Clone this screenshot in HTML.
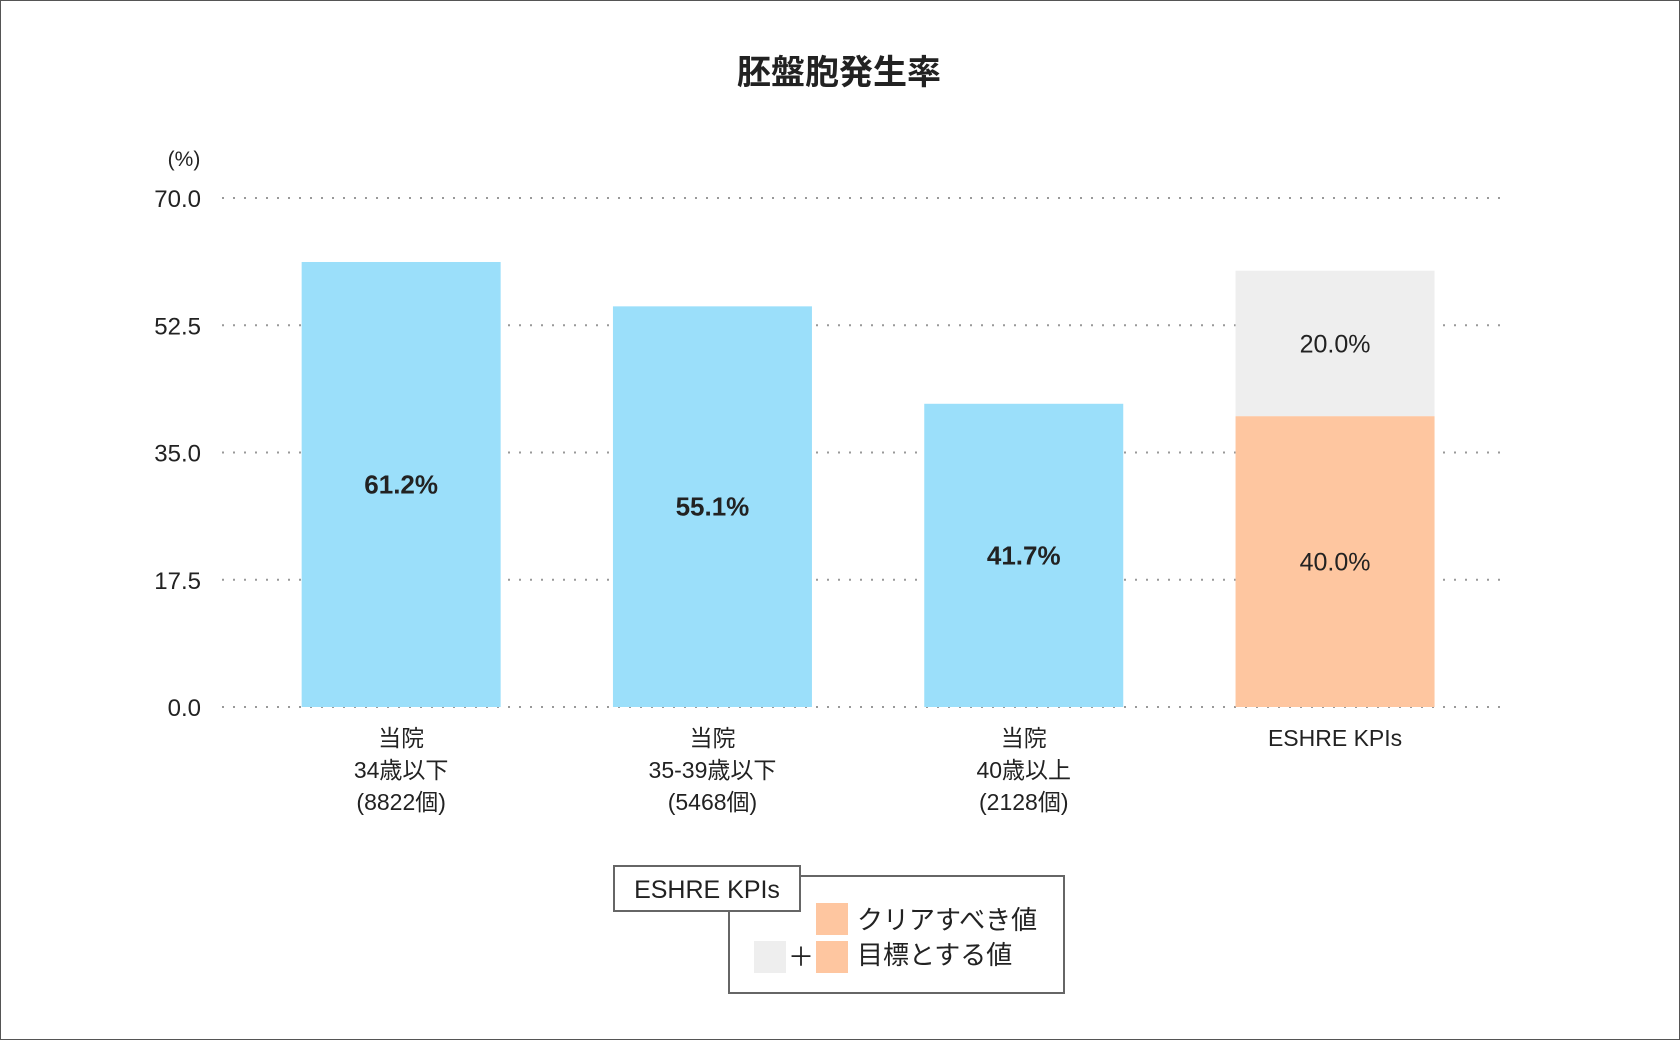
<!DOCTYPE html>
<html><head><meta charset="utf-8"><style>
html,body{margin:0;padding:0;background:#fff}
svg{display:block}
text{font-family:"Liberation Sans","Noto Sans CJK JP",sans-serif;fill:#222}
</style></head><body>
<svg id="chart" width="1680" height="1040" viewBox="0 0 1680 1040">
<rect x="0.5" y="0.5" width="1679" height="1039" fill="#fff" stroke="#555"/>
<text x="839" y="84" text-anchor="middle" font-size="34" font-weight="bold">胚盤胞発生率</text>
<text x="184" y="166" text-anchor="middle" font-size="21">(%)</text>
<g id="grid"></g><g id="bars"></g><g id="labels"></g>
<g>
<rect x="729" y="876" width="335" height="117" fill="#fff" stroke="#666" stroke-width="2"/>
<rect x="614" y="866" width="186" height="45" fill="#fff" stroke="#666" stroke-width="2"/>
<text x="707" y="898" text-anchor="middle" font-size="25">ESHRE KPIs</text>
<rect x="816" y="903" width="32" height="32" fill="#fec6a0"/>
<text x="857" y="929" font-size="26">クリアすべき値</text>
<rect x="754" y="941" width="32" height="32" fill="#eeeeee"/>
<text x="801" y="966" text-anchor="middle" font-size="26">＋</text>
<rect x="816" y="941" width="32" height="32" fill="#fec6a0"/>
<text x="857" y="964" font-size="26">目標とする値</text>
</g>
</svg>
<script>
const categories=[["当院","34歳以下","(8822個)"],["当院","35-39歳以下","(5468個)"],["当院","40歳以上","(2128個)"],["ESHRE KPIs"]];
const clinicValues=[61.2,55.1,41.7];
const kpiClear=40.0;
const kpiExtra=20.0;
const yTicks=[0,17.5,35,52.5,70];
const NS="http://www.w3.org/2000/svg";
const y0=707,yTop=198,yMax=70;
function y(v){return y0-(y0-yTop)*v/yMax;}
const bandStart=245.5,band=311.3,bw=199;
function xc(i){return bandStart+band*(i+0.5);}
function mk(tag,attrs,parent){const e=document.createElementNS(NS,tag);for(const k in attrs)e.setAttribute(k,attrs[k]);parent.appendChild(e);return e;}
const grid=document.getElementById('grid'),bars=document.getElementById('bars'),labels=document.getElementById('labels');
yTicks.forEach(t=>{
  const l=mk('line',{x1:222,x2:1509,y1:y(t),y2:y(t),stroke:'#999','stroke-width':2,'stroke-dasharray':'2 9'},grid);
  
  
  const tx=mk('text',{x:201,y:y(t)+9,'text-anchor':'end','font-size':24},grid);
  tx.textContent=t.toFixed(1);
  
  
});
clinicValues.forEach((v,i)=>{
  const r=mk('rect',{x:xc(i)-bw/2,y:y(v),width:bw,height:y0-y(v),fill:'#9bdffa'},bars);
  
  
  const t=mk('text',{x:xc(i),y:(y(v)+y0)/2+9,'text-anchor':'middle','font-size':26,'font-weight':'bold'},bars);
  t.textContent=v.toFixed(1)+'%';
  
  
});
const k=3;
const r1=mk('rect',{x:xc(k)-bw/2,y:y(kpiClear),width:bw,height:y0-y(kpiClear),fill:'#fec6a0'},bars);


const r2=mk('rect',{x:xc(k)-bw/2,y:y(kpiClear+kpiExtra),width:bw,height:y(kpiClear)-y(kpiClear+kpiExtra),fill:'#eeeeee'},bars);


const t1=mk('text',{x:xc(k),y:(y(kpiClear)+y0)/2+9,'text-anchor':'middle','font-size':25},bars);
t1.textContent=kpiClear.toFixed(1)+'%';


const t2=mk('text',{x:xc(k),y:(y(kpiClear)+y(kpiClear+kpiExtra))/2+9,'text-anchor':'middle','font-size':25},bars);
t2.textContent=kpiExtra.toFixed(1)+'%';


categories.forEach((lines,i)=>{
  lines.forEach((s,j)=>{
    const t=mk('text',{x:xc(i),y:746+j*32,'text-anchor':'middle','font-size':23},labels);
    t.textContent=s;
    
    
  });
});
</script>
</body></html>
